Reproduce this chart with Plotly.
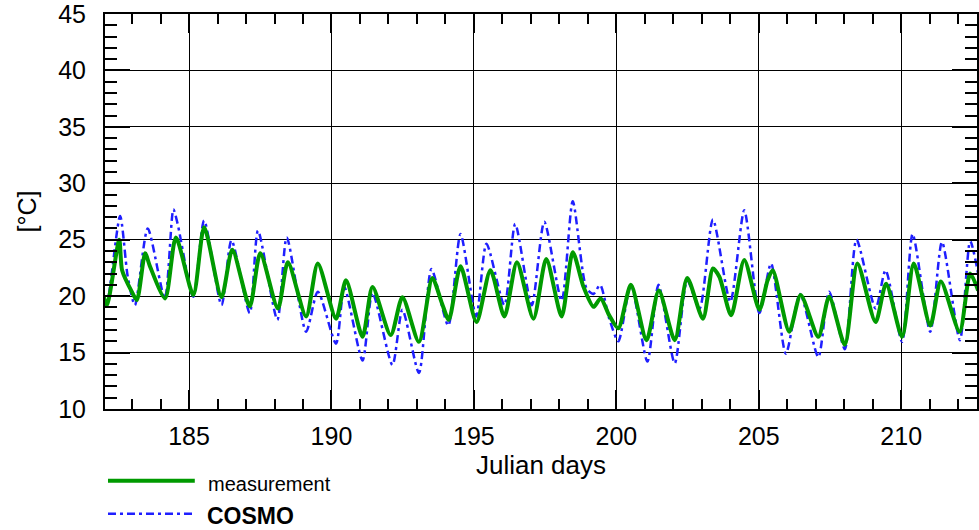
import plotly.graph_objects as go

# ---------------- data ----------------
meas_day = [182.0, 182.12, 182.55, 182.65, 182.99, 183.17, 183.46, 183.62, 184.16, 184.54,
            185.15, 185.53, 186.14, 186.52, 187.13, 187.50, 188.12, 188.47, 189.11, 189.52,
            190.16, 190.51, 191.09, 191.44, 192.08, 192.49, 193.07, 193.54, 193.88, 194.12,
            194.53, 195.09, 195.58, 196.07, 196.51, 197.09, 197.54, 198.08, 198.47, 198.85,
            199.20, 199.45, 199.75, 200.07, 200.51, 201.06, 201.49, 202.05, 202.49, 203.04,
            203.39, 203.62, 204.03, 204.49, 205.02, 205.31, 205.49, 206.07, 206.47, 207.09,
            207.47, 208.02, 208.46, 209.10, 209.47, 210.03, 210.44, 211.02, 211.39, 212.05,
            212.42, 212.70]
meas_temp = [20.0, 19.2, 25.0, 22.3, 20.4, 19.65, 23.8, 22.7, 19.8, 25.2,
             20.1, 26.1, 19.9, 24.1, 19.1, 23.8, 18.9, 23.0, 18.2, 22.9,
             18.0, 21.4, 16.4, 20.8, 16.55, 19.9, 15.95, 21.6, 19.35, 17.9,
             22.65, 17.7, 22.3, 18.2, 23.0, 18.0, 23.3, 18.2, 23.9, 20.8,
             19.05, 19.8, 18.3, 17.15, 21.0, 16.1, 20.5, 16.1, 21.6, 18.0,
             22.45, 21.7, 18.3, 23.2, 18.8, 21.4, 22.3, 16.85, 20.1, 16.4,
             19.95, 15.7, 22.9, 17.7, 21.1, 16.4, 22.9, 17.4, 21.3, 16.85,
             22.0, 20.5]

cosmo_day = [182.0, 182.10, 182.58, 182.85, 183.10, 183.55, 184.15, 184.45, 184.60, 185.15,
             185.53, 186.14, 186.49, 187.13, 187.42, 188.10, 188.43, 189.11, 189.52, 190.16,
             190.45, 191.09, 191.44, 192.14, 192.49, 193.07, 193.51, 194.10, 194.53, 195.08,
             195.44, 196.07, 196.45, 197.03, 197.47, 198.08, 198.47, 198.95, 199.20, 199.43,
             199.75, 200.07, 200.51, 201.09, 201.48, 202.05, 202.49, 202.92, 203.39, 204.00,
             204.49, 205.02, 205.43, 205.95, 206.45, 207.09, 207.47, 208.02, 208.43, 209.10,
             209.45, 210.03, 210.40, 211.02, 211.43, 212.06, 212.42, 212.70]
cosmo_temp = [19.6, 19.05, 27.1, 21.7, 19.2, 26.0, 19.8, 27.7, 26.4, 19.95,
              26.7, 19.2, 24.95, 18.5, 25.8, 17.9, 25.2, 16.85, 20.4, 15.8,
              20.8, 14.3, 20.3, 13.9, 18.8, 13.2, 22.4, 17.4, 25.5, 18.2,
              24.65, 19.2, 26.4, 19.2, 26.6, 19.6, 28.4, 20.7, 20.2, 21.0,
              18.0, 16.0, 21.0, 14.2, 21.0, 14.05, 21.4, 18.9, 26.8, 19.5,
              27.6, 18.5, 22.9, 14.9, 20.2, 14.6, 20.4, 15.3, 25.0, 18.9,
              22.3, 15.95, 25.5, 16.85, 24.8, 16.1, 24.9, 22.0]

x_range = [182.05, 212.66]
y_range = [10, 45]
x_ticks = [185, 190, 195, 200, 205, 210]
y_ticks = [10, 15, 20, 25, 30, 35, 40, 45]

GREEN = "#009a00"
BLUE = "#1f1fff"
DASHDOT = "8px,4px,3px,4px"
FONT = "Liberation Sans, Arial, sans-serif"

fig = go.Figure()
fig.add_trace(go.Scatter(x=cosmo_day, y=cosmo_temp, mode="lines", name="COSMO",
                         line=dict(color=BLUE, width=2.5, dash=DASHDOT,
                                   shape="spline", smoothing=0.7)))
fig.add_trace(go.Scatter(x=meas_day, y=meas_temp, mode="lines", name="measurement",
                         line=dict(color=GREEN, width=4, shape="spline", smoothing=0.7)))

W, H = 979, 530
L, R, T, B = 105, 0, 13, 121
pw, ph = W - L - R, H - T - B


def px_to_paper(px, py):
    return (px - L) / pw, (H - B - py) / ph


# manual legend (long line samples as in reference)
for (py, col, dash, w) in [(481, GREEN, "solid", 4), (514, BLUE, DASHDOT, 2.5)]:
    x0, y0 = px_to_paper(108, py)
    x1, _ = px_to_paper(195, py)
    fig.add_shape(type="line", xref="paper", yref="paper", x0=x0, x1=x1, y0=y0, y1=y0,
                  line=dict(color=col, width=w, dash=dash))

ax, ay = px_to_paper(206, 484)
fig.add_annotation(xref="paper", yref="paper", x=ax, y=ay, xanchor="left", yanchor="middle",
                   text="measurement", showarrow=False, font=dict(family=FONT, size=20, color="black"))
ax, ay = px_to_paper(205, 516)
fig.add_annotation(xref="paper", yref="paper", x=ax, y=ay, xanchor="left", yanchor="middle",
                   text="<b>COSMO</b>", showarrow=False, font=dict(family=FONT, size=23, color="black"))

axis_common = dict(showline=True, linecolor="black", linewidth=2, mirror="allticks",
                   ticks="inside", tickwidth=2, tickcolor="black",
                   showgrid=True, gridcolor="black", gridwidth=1, zeroline=False,
                   ticklabeloverflow="allow",
                   tickfont=dict(family=FONT, size=25, color="black"))

fig.update_xaxes(range=x_range, tickvals=x_ticks, ticklen=19,
                 minor=dict(dtick=1, tick0=0, ticks="inside", ticklen=10, tickwidth=2,
                            tickcolor="black", showgrid=False),
                 title=dict(text="Julian days", font=dict(family=FONT, size=26, color="black"),
                            standoff=4),
                 ticklabelstandoff=4,
                 **axis_common)
fig.update_yaxes(range=y_range, tickvals=y_ticks, ticklen=25,
                 minor=dict(dtick=1, tick0=0, ticks="inside", ticklen=12, tickwidth=2,
                            tickcolor="black", showgrid=False),
                 title=dict(text="[°C]", font=dict(family=FONT, size=25, color="black"),
                            standoff=14),
                 ticklabelstandoff=12,
                 **axis_common)

fig.update_layout(width=W, height=H, margin=dict(l=L, r=R, t=T, b=B, pad=0),
                  paper_bgcolor="white", plot_bgcolor="white", showlegend=False,
                  font=dict(family=FONT, color="black"))

fig.write_html("out.html")
